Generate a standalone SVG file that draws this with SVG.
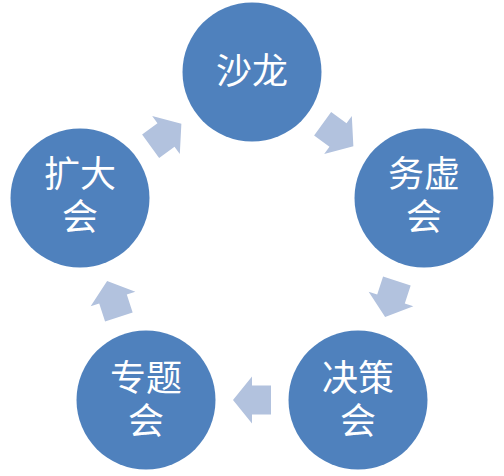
<svg xmlns="http://www.w3.org/2000/svg" width="504" height="476" viewBox="0 0 504 476">
<style>
.node circle{fill:#4F81BD;}
.node text{fill:#FFFFFF;font-family:"Liberation Serif","Noto Sans CJK SC","Noto Sans CJK JP",sans-serif;font-size:36px;text-anchor:middle;}
.arrow{fill:#B2C2DE;}
</style>
<defs>
<polygon id="arr" points="-19,-14.5 0,-14.5 0,-23.5 19,0 0,23.5 0,14.5 -19,14.5"/>
</defs>
<rect width="504" height="476" fill="#FFFFFF"/>
<g id="connectors">
<use href="#arr" class="arrow" transform="translate(338,135) rotate(36)"/>
<use href="#arr" class="arrow" transform="translate(391,299) rotate(108)"/>
<use href="#arr" class="arrow" transform="translate(252,400) rotate(180)"/>
<use href="#arr" class="arrow" transform="translate(113,299) rotate(252)"/>
<use href="#arr" class="arrow" transform="translate(166,135) rotate(324)"/>
</g>
<g id="node-salon" class="node">
<circle cx="252" cy="72" r="69.5"/>
<text x="252" y="84">沙龙</text>
</g>
<g id="node-wuxu" class="node">
<circle cx="424" cy="198" r="69.5"/>
<text x="424" y="187">务虚</text>
<text x="424" y="230">会</text>
</g>
<g id="node-juece" class="node">
<circle cx="358" cy="400" r="69.5"/>
<text x="358" y="391">决策</text>
<text x="358" y="434">会</text>
</g>
<g id="node-zhuanti" class="node">
<circle cx="146" cy="400" r="69.5"/>
<text x="146" y="391">专题</text>
<text x="146" y="434">会</text>
</g>
<g id="node-kuoda" class="node">
<circle cx="80" cy="198" r="69.5"/>
<text x="80" y="187">扩大</text>
<text x="80" y="230">会</text>
</g>
</svg>
